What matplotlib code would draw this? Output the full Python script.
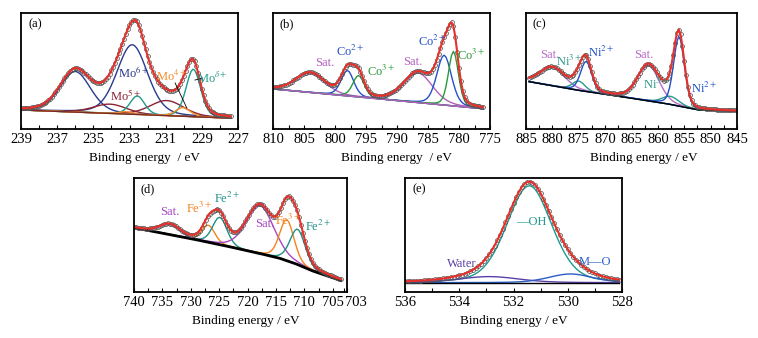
import numpy as np
import matplotlib.pyplot as plt
from matplotlib.transforms import offset_copy

plt.rcParams['font.family'] = ['Liberation Serif', 'DejaVu Serif']
plt.rcParams['mathtext.fontset'] = 'stix'

# ---- (a) Mo 3d ----
a_center = [236.0, 232.85, 234.08, 230.94, 232.57, 229.47, 230.04, 233.2]
a_height = [35, 60, 8, 13, 16, 41, 7.5, 2]
a_fwhm = [2.0, 2.0, 2.2, 2.2, 0.95, 0.95, 0.95, 0.95]
a_base_x = [239.0, 227.3]
a_base_y = [16.4, 9.3]

# ---- (b) Co 2p ----
b_center = [804.0, 798.0, 796.2, 786.6, 782.4, 780.9]
b_height = [17, 22, 18.5, 25.6, 43, 47]
b_fwhm = [5.5, 2.4, 2.2, 5.5, 2.8, 1.9]
b_base_x = [810.0, 776.0]
b_base_y = [34.5, 17.4]

# ---- (c) Ni 2p ----
c_center = [880.0, 875.0, 873.6, 861.8, 857.6, 856.0]
c_height = [16, 8, 26, 31, 7, 60]
c_fwhm = [5.5, 2.8, 2.5, 4.8, 3.8, 2.4]
c_base_x = [884.4, 875.0, 865.0, 858.0, 852.2, 845.0]
c_base_y = [40.8, 33.3, 26.5, 21.5, 16.4, 15.5]

# ---- (d) Fe 2p ----
d_center = [733.7, 726.9, 724.9, 717.8, 713.1, 711.2]
d_height = [9, 15, 24, 42, 36, 31]
d_fwhm = [4.2, 2.7, 3.0, 5.8, 3.0, 3.2]
d_base_x = [740.0, 728.8, 723.0, 717.2, 714.3, 711.4, 708.5, 705.6, 703.3]
d_base_y = [56.4, 45.6, 39.5, 33.0, 29.5, 24.5, 18.4, 13.5, 9.6]

# ---- (e) O 1s ----
e_center = [531.42, 532.9, 529.9]
e_height = [85, 5.3, 7.6]
e_fwhm = [1.95, 2.6, 1.9]
e_base_x = [536.0, 528.0]
e_base_y = [8.2, 8.2]

red = '#e8302a'


def peak(x, c, h, w, eta=0.25):
    d = (x - c) / w
    return h * ((1 - eta) * np.exp(-4 * np.log(2) * d ** 2) + eta / (1 + 4 * d ** 2))


def panel(rect, centers, heights, fwhms, colors, bx, by, xlim, step,
          major, minor, ticklabels, xlabel, xl_pos, tag, labels,
          base_color='k', base_lw=1.0):
    ax = fig.add_axes(rect)
    x = np.arange(bx[0], bx[-1], -step)
    base = np.interp(x, bx[::-1], by[::-1])
    total = base.copy()
    for c, h, w, col in zip(centers, heights, fwhms, colors):
        comp = peak(x, c, h, w)
        total += comp
        ax.plot(x, base + comp, color=col, lw=1.0)
    ax.plot(x, base, color=base_color, lw=base_lw)
    ax.plot(x, total, 'o', ms=2.8, mfc='none', mec='#555555', mew=0.55)
    ax.plot(x, total, color=red, lw=1.5)
    ax.set_xlim(*xlim)
    ax.set_ylim(0, 100)
    ax.set_yticks([])
    ax.set_xticks(major)
    ax.set_xticklabels(ticklabels, fontsize=10.5)
    ax.set_xticks(minor, minor=True)
    ax.tick_params(axis='x', which='both', direction='in', length=3, width=0.8, pad=3)
    for s in ax.spines.values():
        s.set_linewidth(1.3)
    ax.set_xlabel(xlabel, fontsize=9.5)
    ax.xaxis.set_label_coords(xl_pos, -0.2)
    ax.text(0.065, 0.9, tag, transform=ax.transAxes, fontsize=9, ha='center', va='center')
    for tx, ty, t, col in labels:
        ax.text(tx, ty, t, color=col, fontsize=9, ha='center', va='center')
    return ax


fig = plt.figure(figsize=(7.58, 3.38), dpi=100)
H = 338.0
W = 758.0

navy, brown, teal, orange = '#2b3a8c', '#8b2332', '#1f9a8a', '#f58b2a'
axa = panel([21 / W, 1 - 129 / H, 217 / W, 116 / H],
            a_center, a_height, a_fwhm,
            [navy, navy, brown, brown, teal, teal, orange, orange],
            a_base_x, a_base_y, (239, 227), 0.1,
            np.arange(239, 226, -2), np.arange(239, 226, -1),
            [str(v) for v in range(239, 226, -2)],
            'Binding energy  / eV', 0.57, '(a)',
            [(232.8, 48, 'Mo$^{6+}$', navy), (233.2, 28.4, 'Mo$^{5+}$', brown),
             (230.67, 45, 'Mo$^{4+}$', orange), (228.4, 43.7, 'Mo$^{\\delta+}$', teal)],
            base_color='#7a2a2a')
axa.plot([230.48, 229.83], [39.7, 18.1], color='k', lw=0.6)
axa.plot([228.95, 229.38], [44, 42.2], color='k', lw=0.6)

purple_b, blue_b, green_b = '#b45fc0', '#2251c9', '#2a9a3a'
panel([273 / W, 1 - 129 / H, 217 / W, 116 / H],
      b_center, b_height, b_fwhm,
      [purple_b, blue_b, green_b, purple_b, blue_b, green_b],
      b_base_x, b_base_y, (810, 775), 0.3,
      np.arange(810, 774, -5), np.arange(810, 774, -2.5),
      [str(v) for v in range(810, 774, -5)],
      'Binding energy  / eV', 0.567, '(b)',
      [(801.6, 56.6, 'Sat.', purple_b), (797.6, 66.7, 'Co$^{2+}$', blue_b),
       (792.5, 49.4, 'Co$^{3+}$', green_b), (787.4, 58, 'Sat.', purple_b),
       (784.4, 75.3, 'Co$^{2+}$', blue_b), (778.0, 63.8, 'Co$^{3+}$', green_b)],
      base_color=purple_b)

purple_c, teal_c, blue_c = '#b86bc8', '#2a9a8a', '#1f50c8'
panel([526 / W, 1 - 129 / H, 211 / W, 116 / H],
      c_center, c_height, c_fwhm,
      [purple_c, teal_c, blue_c, purple_c, teal_c, blue_c],
      c_base_x, c_base_y, (885, 845), 0.35,
      np.arange(885, 844, -5), np.arange(885, 844, -2.5),
      [str(v) for v in range(885, 844, -5)],
      'Binding energy / eV', 0.56, '(c)',
      [(880.5, 63.8, 'Sat.', purple_c), (876.8, 58, 'Ni$^{3+}$', teal_c),
       (870.8, 65.8, 'Ni$^{2+}$', blue_c), (862.6, 63.8, 'Sat.', purple_c),
       (860.4, 38, 'Ni$^{3+}$', teal_c), (851.3, 35, 'Ni$^{2+}$', blue_c)])

purple_d, orange_d, teal_d = '#a848c0', '#f5821f', '#1f8f88'
axd = panel([134 / W, 1 - 292 / H, 213 / W, 114 / H],
            d_center, d_height, d_fwhm,
            [purple_d, orange_d, teal_d, purple_d, orange_d, teal_d],
            d_base_x, d_base_y, (740, 703), 0.35,
            [740, 735, 730, 725, 720, 715, 710, 705, 703], np.arange(740, 702, -2.5),
            ['740', '735', '730', '725', '720', '715', '710', '705', ''],
            'Binding energy / eV', 0.526, '(d)',
            [(733.7, 70.4, 'Sat.', purple_d), (728.5, 73.4, 'Fe$^{3+}$', orange_d),
             (723.6, 82.2, 'Fe$^{2+}$', teal_d), (716.9, 59.4, 'Sat.', purple_d),
             (712.8, 63.2, 'Fe$^{3+}$', orange_d), (707.6, 57.3, 'Fe$^{2+}$', teal_d)],
            base_lw=2.0)
axd.text(703, 0, '703', fontsize=10.5, ha='center', va='top',
         transform=offset_copy(axd.get_xaxis_transform(), fig=fig, x=12, y=-4.2, units='dots'))

teal_e, purple_e, blue_e = '#1e9a8c', '#5a3fa8', '#2b5cc8'
panel([405 / W, 1 - 292 / H, 217 / W, 114 / H],
      e_center, e_height, e_fwhm,
      [teal_e, purple_e, blue_e],
      e_base_x, e_base_y, (536, 528), 0.1,
      np.arange(536, 527, -2), np.arange(536, 527, -1),
      [str(v) for v in range(536, 527, -2)],
      'Binding energy / eV', 0.5, '(e)',
      [(531.34, 61.7, '—OH', teal_e), (533.92, 24.3, 'Water', purple_e),
       (529.0, 26, 'M—O', blue_e)])

fig.savefig('out.png', dpi=100)
